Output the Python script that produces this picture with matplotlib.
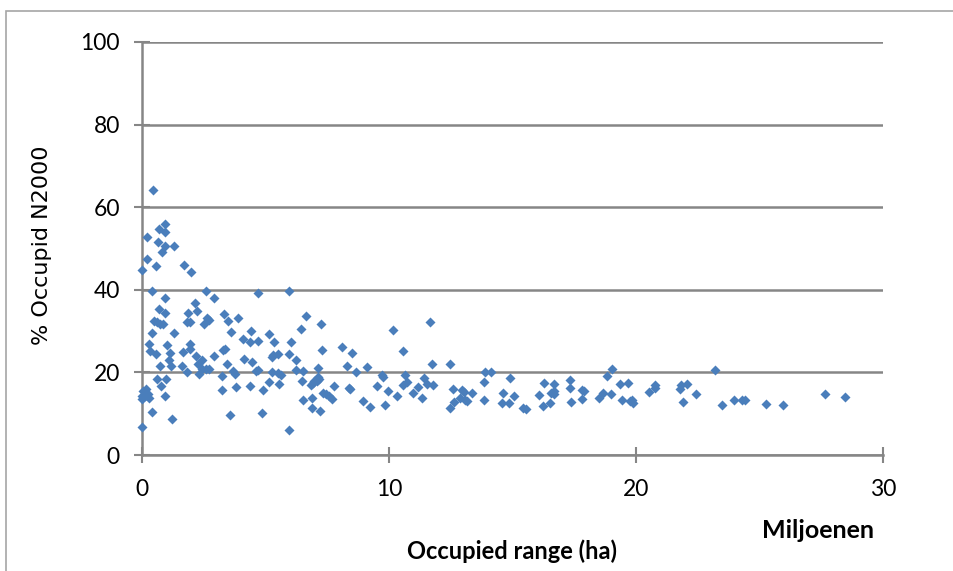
import numpy as np
import matplotlib
matplotlib.use("Agg")
import matplotlib.pyplot as plt
from matplotlib.patches import Rectangle

# Occupied range (millions of ha) and % occupied in N2000
occupied_range = [
    0.45, 0.22, 0.92, 0.92, 0.69, 0.64, 0.92, 1.31, 0.79, 0.20,
    0.55, 0.02, 1.71, 2.00, 0.40, 2.60, 4.71, 5.95, 2.93, 0.92,
    2.16, 0.67, 0.92, 1.86, 2.23, 3.32, 6.62, 3.89, 2.63, 2.70,
    0.50, 0.62, 0.87, 0.72, 1.81, 1.93, 2.50, 3.50, 7.24, 11.68,
    3.62, 1.31, 0.42, 4.41, 5.16, 6.45, 10.17, 4.07, 4.36, 4.71,
    5.36, 6.03, 0.27, 1.02, 1.93, 0.32, 1.12, 0.55, 1.93, 1.66,
    3.27, 3.35, 8.11, 7.27, 10.56, 8.50, 2.90, 2.18, 5.31, 5.50,
    5.95, 5.26, 4.14, 2.43, 6.22, 1.09, 3.45, 4.46, 11.73, 12.47,
    2.26, 1.61, 0.74, 1.17, 8.28, 9.12, 7.14, 2.43, 2.60, 2.70,
    1.83, 3.69, 4.61, 4.71, 5.26, 5.50, 6.25, 6.50, 8.68, 13.89,
    14.13, 23.21, 19.02, 2.31, 3.77, 5.63, 3.22, 9.72, 9.74, 10.64,
    7.14, 18.84, 0.97, 0.60, 6.47, 14.88, 11.41, 6.97, 7.17, 6.94,
    7.09, 6.84, 5.16, 5.53, 7.76, 10.71, 10.56, 11.53, 11.80, 13.84,
    11.16, 9.52, 16.29, 16.69, 17.31, 19.34, 19.69, 20.78, 21.82, 22.07,
    21.80, 20.78, 0.77, 0.15, 0.05, 3.82, 4.36, 8.38, 8.41, 12.60,
    12.94, 17.33, 17.80, 17.88, 0.25, 0.12, 0.00, 0.30, 0.00, 0.94,
    3.25, 4.88, 9.94, 13.02, 13.36, 14.63, 16.66, 16.56, 16.69, 16.07,
    18.97, 18.65, 20.53, 22.44, 27.65, 28.46, 7.31, 7.56, 7.46, 10.34,
    10.96, 11.35, 15.08, 7.71, 6.50, 6.87, 8.93, 12.89, 13.09, 13.17,
    13.86, 12.65, 17.36, 17.83, 18.50, 19.44, 19.84, 19.89, 19.74, 21.92,
    23.95, 24.30, 24.40, 25.27, 25.96, 23.48, 14.58, 14.85, 16.51, 9.82,
    9.25, 16.22, 15.42, 15.55, 12.45, 6.89, 7.22, 0.42, 4.84, 3.57,
    1.21, 0.02, 5.95,
]
pct_n2000 = [
    64.2, 52.9, 55.9, 54.0, 54.7, 51.5, 50.7, 50.6, 49.1, 47.5,
    45.7, 44.7, 45.9, 44.3, 39.8, 39.7, 39.3, 39.8, 38.0, 38.0,
    36.9, 35.4, 34.5, 34.5, 34.9, 34.1, 33.7, 33.2, 33.2, 32.7,
    32.5, 32.2, 31.7, 31.8, 32.2, 32.2, 31.6, 32.5, 31.7, 32.3,
    29.7, 29.6, 29.6, 30.1, 29.4, 30.5, 30.2, 28.2, 27.3, 27.5,
    27.4, 27.3, 26.9, 26.6, 26.8, 25.3, 24.7, 24.5, 25.7, 25.0,
    25.4, 25.7, 26.1, 25.4, 25.1, 24.7, 24.0, 24.0, 24.2, 24.5,
    24.4, 23.7, 23.3, 23.1, 22.9, 23.0, 22.1, 22.4, 22.0, 22.1,
    22.1, 21.6, 21.5, 21.6, 21.6, 21.4, 21.1, 20.9, 20.8, 20.9,
    20.2, 20.3, 20.3, 20.5, 20.0, 19.8, 20.7, 20.3, 20.2, 20.2,
    20.2, 20.6, 20.9, 19.5, 19.5, 19.4, 19.1, 19.3, 18.8, 19.3,
    18.9, 19.2, 18.5, 18.4, 18.0, 18.6, 18.6, 18.0, 18.3, 17.4,
    17.8, 16.9, 17.7, 17.2, 16.8, 17.7, 17.0, 17.2, 17.0, 17.6,
    16.4, 16.6, 17.4, 17.3, 18.1, 17.2, 17.4, 16.9, 16.9, 17.1,
    16.0, 16.2, 16.7, 16.0, 15.4, 16.5, 16.7, 16.3, 16.0, 16.1,
    15.8, 16.3, 15.8, 15.4, 14.8, 14.2, 14.2, 13.9, 13.6, 14.4,
    15.7, 15.7, 15.4, 15.2, 15.0, 15.1, 15.5, 15.1, 14.8, 14.6,
    14.8, 15.1, 15.2, 14.8, 14.7, 14.0, 15.1, 14.4, 14.8, 14.2,
    15.0, 13.8, 14.3, 13.6, 13.2, 13.7, 13.1, 13.7, 13.2, 13.0,
    13.3, 12.8, 12.8, 13.6, 13.9, 13.3, 13.2, 12.7, 13.1, 12.8,
    13.3, 13.4, 13.4, 12.3, 12.1, 12.0, 12.5, 12.5, 12.7, 12.0,
    11.6, 11.8, 11.3, 11.2, 11.3, 11.3, 10.7, 10.5, 10.2, 9.6,
    8.8, 6.7, 6.0,
]
x_ticks = [0, 10, 20, 30]
y_ticks = [0, 20, 40, 60, 80, 100]

grid_color = "#868686"
marker_color = "#4A7EBB"

fig = plt.figure(figsize=(9.54, 5.71), dpi=100)
ax = fig.add_axes([142 / 954, 1 - 455 / 571, (883 - 142) / 954, (455 - 42) / 571])

# chart-area border
fig.patches.append(Rectangle((6 / 954, -0.1), 2.0, 1 - 11 / 571 + 0.1,
                             transform=fig.transFigure, fill=False,
                             edgecolor="#a6a6a6", linewidth=1.2))

ax.scatter(occupied_range, pct_n2000, marker="D", s=26, color=marker_color,
           linewidths=0, zorder=3, clip_on=False)

ax.set_xlim(0, 30)
ax.set_ylim(0, 100)
ax.set_xticks(x_ticks)
ax.set_yticks(y_ticks)
ax.grid(axis="y", color=grid_color, linewidth=1.8)
ax.set_axisbelow(True)

for side in ("top", "right"):
    ax.spines[side].set_visible(False)
for side in ("left", "bottom"):
    ax.spines[side].set_color(grid_color)
    ax.spines[side].set_linewidth(1.8)

ax.tick_params(axis="both", colors=grid_color, width=1.5, length=11,
               direction="inout", labelcolor="black", labelsize=16.5)
ax.tick_params(axis="x", pad=12)
ax.tick_params(axis="y", pad=10.5)
for lbl in ax.get_xticklabels() + ax.get_yticklabels():
    lbl.set_fontfamily("Lato")

fig.text(42 / 954, 1 - 245 / 571, "% Occupid N2000", rotation=90, ha="center",
         va="center", fontsize=16, family="DejaVu Sans")
fig.text(512 / 954, 1 - 551 / 571, "Occupied range (ha)", ha="center", va="center",
         fontsize=17, fontweight="bold", family="Lato")
fig.text(818 / 954, 1 - 531 / 571, "Miljoenen", ha="center", va="center",
         fontsize=18, fontweight="bold", family="Lato")

fig.savefig("out.png", dpi=100)
